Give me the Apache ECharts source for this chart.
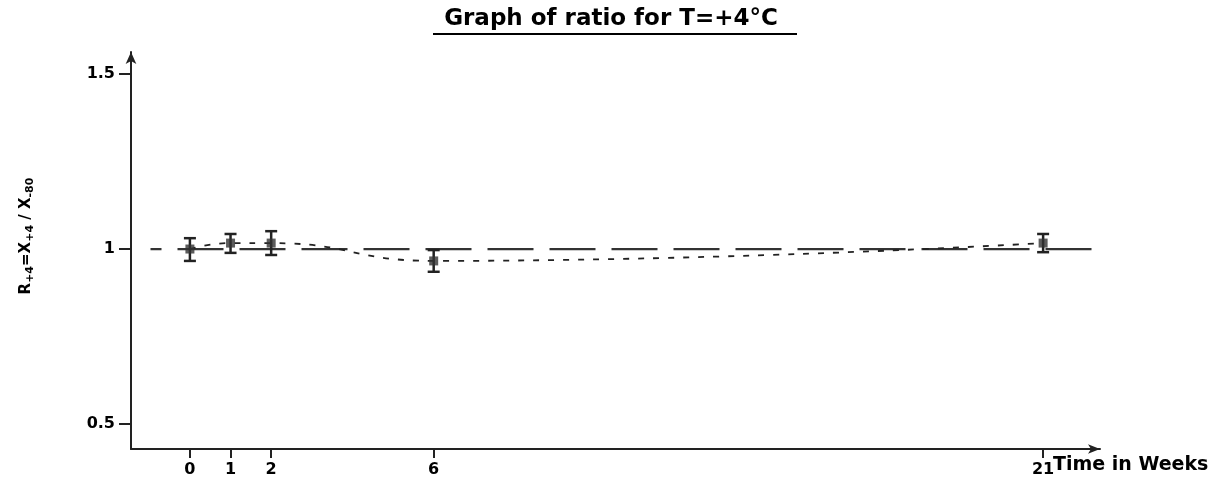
<!DOCTYPE html>
<html>
<head>
<meta charset="utf-8">
<style>
  html, body { margin: 0; padding: 0; background: #fff; }
  #chart { width: 1222px; height: 484px; }
</style>
<script src="https://cdn.jsdelivr.net/npm/echarts@6/dist/echarts.min.js"></script>
</head>
<body>
<div id="chart"></div>
<script>
// data
var weeks = [0, 1, 2, 6, 21];
var ratio = [1.0, 1.017, 1.017, 0.966, 1.017];
var errUp = [0.031, 0.026, 0.034, 0.031, 0.026];
var errDown = [0.034, 0.028, 0.034, 0.031, 0.026];
var xTicks = [0, 1, 2, 6, 21];
var yTicks = [0.5, 1, 1.5];
var refLevel = 1;
var refSpan = [-0.97, 22.2];

var font = "DejaVu Sans";
var ink = "#222";

var chart = echarts.init(document.getElementById("chart"));

var pts = weeks.map(function (w, i) { return [w, ratio[i]]; });
var bars = weeks.map(function (w, i) {
  return [w, ratio[i] - errDown[i], ratio[i] + errUp[i]];
});

chart.setOption({
  animation: false,
  backgroundColor: "#fff",
  grid: { left: 131, right: 122, top: 52, bottom: 35 },
  graphic: [
    {
      type: "text",
      left: "center",
      top: 8,
      style: {
        text: "Graph of ratio for T=+4°C",
        font: "bold 23px " + font,
        fill: "#000"
      }
    },
    {
      type: "line",
      shape: { x1: 433, y1: 34, x2: 797, y2: 34 },
      style: { stroke: "#000", lineWidth: 2 }
    },
    {
      type: "text",
      x: 26,
      y: 236,
      rotation: Math.PI / 2,
      style: {
        text: "{m|R}{s|+4}{m|=X}{s|+4}{m| / X}{s|-80}",
        align: "center",
        verticalAlign: "middle",
        fill: "#000",
        rich: {
          m: { fontFamily: font, fontWeight: "bold", fontSize: 15, lineHeight: 20, fill: "#000" },
          s: { fontFamily: font, fontWeight: "bold", fontSize: 11, lineHeight: 10, verticalAlign: "bottom", fill: "#000" }
        }
      }
    },
    {
      type: "text",
      left: 1053,
      top: 456,
      style: {
        text: "Time in Weeks",
        font: "bold 19px " + font,
        fill: "#000"
      }
    }
  ],
  xAxis: {
    type: "value",
    min: -1.45,
    max: 22.4,
    splitLine: { show: false },
    axisLine: {
      onZero: false,
      lineStyle: { color: ink, width: 2 },
      symbol: ["none", "arrow"],
      symbolSize: [7, 12]
    },
    axisTick: {
      customValues: xTicks,
      length: 9,
      lineStyle: { color: ink, width: 2 }
    },
    axisLabel: {
      customValues: xTicks,
      margin: 13,
      color: "#000",
      fontFamily: font,
      fontWeight: "bold",
      fontSize: 16
    }
  },
  yAxis: {
    type: "value",
    min: 0.4286,
    max: 1.563,
    splitLine: { show: false },
    axisLine: {
      show: true,
      onZero: false,
      lineStyle: { color: ink, width: 2 },
      symbol: ["none", "arrow"],
      symbolSize: [8, 12]
    },
    axisTick: {
      show: true,
      customValues: yTicks,
      length: 12,
      lineStyle: { color: ink, width: 2 }
    },
    axisLabel: {
      customValues: yTicks,
      margin: 16,
      color: "#000",
      fontFamily: font,
      fontWeight: "bold",
      fontSize: 16
    }
  },
  series: [
    {
      name: "reference",
      type: "line",
      data: refSpan.map(function (x) { return [x, refLevel]; }),
      symbol: "none",
      lineStyle: { color: "#333", width: 2.2, type: [46, 16], dashOffset: 35 },
      z: 1
    },
    {
      name: "trend",
      type: "line",
      data: pts,
      smooth: true,
      symbol: "none",
      lineStyle: { color: ink, width: 1.8, type: [6, 9] },
      z: 2
    },
    {
      name: "error",
      type: "custom",
      data: bars,
      renderItem: function (params, api) {
        var lo = api.coord([api.value(0), api.value(1)]);
        var hi = api.coord([api.value(0), api.value(2)]);
        var cap = 6;
        var st = { stroke: ink, lineWidth: 2.5 };
        return {
          type: "group",
          children: [
            { type: "line", shape: { x1: lo[0], y1: lo[1], x2: hi[0], y2: hi[1] }, style: st },
            { type: "line", shape: { x1: lo[0] - cap, y1: lo[1], x2: lo[0] + cap, y2: lo[1] }, style: st },
            { type: "line", shape: { x1: hi[0] - cap, y1: hi[1], x2: hi[0] + cap, y2: hi[1] }, style: st }
          ]
        };
      },
      z: 3
    },
    {
      name: "ratio",
      type: "scatter",
      data: pts,
      symbol: "rect",
      symbolSize: 9,
      itemStyle: { color: "#333" },
      z: 4
    }
  ]
});
</script>
</body>
</html>
